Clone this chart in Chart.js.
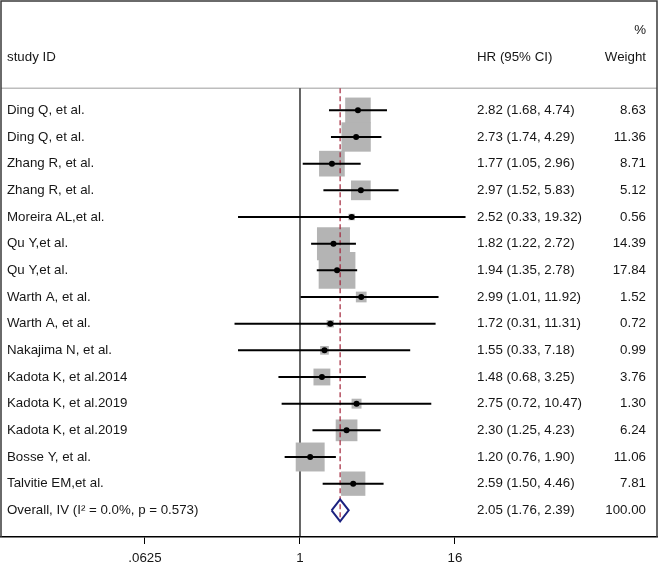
<!DOCTYPE html>
<html>
<head>
<meta charset="utf-8">
<title>Forest plot</title>
<script src="https://cdn.jsdelivr.net/npm/chart.js@4.4.0/dist/chart.umd.min.js"></script>
<style>
  html, body { margin: 0; padding: 0; background: #fff; }
  #wrap { width: 660px; height: 564px; }
</style>
</head>
<body>
<div id="wrap"><canvas id="forest" width="660" height="564"></canvas></div>
<script>
/* global Chart */
'use strict';

const studies = ['Ding Q, et al.', 'Ding Q, et al.', 'Zhang R, et al.', 'Zhang R, et al.',
  'Moreira AL,et al.', 'Qu Y,et al.', 'Qu Y,et al.', 'Warth A, et al.', 'Warth A, et al.',
  'Nakajima N, et al.', 'Kadota K, et al.2014', 'Kadota K, et al.2019', 'Kadota K, et al.2019',
  'Bosse Y, et al.', 'Talvitie EM,et al.'];
const hr = [2.82, 2.73, 1.77, 2.97, 2.52, 1.82, 1.94, 2.99, 1.72, 1.55, 1.48, 2.75, 2.30, 1.20, 2.59];
const lower = [1.68, 1.74, 1.05, 1.52, 0.33, 1.22, 1.35, 1.01, 0.31, 0.33, 0.68, 0.72, 1.25, 0.76, 1.50];
const upper = [4.74, 4.29, 2.96, 5.83, 19.32, 2.72, 2.78, 11.92, 11.31, 7.18, 3.25, 10.47, 4.23, 1.90, 4.46];
const weights = [8.63, 11.36, 8.71, 5.12, 0.56, 14.39, 17.84, 1.52, 0.72, 0.99, 3.76, 1.30, 6.24, 11.06, 7.81];
const overall = [2.05, 1.76, 2.39];
const overallWeight = 100;
const overallLabel = 'Overall, IV (I\u00B2 = 0.0%, p = 0.573)';
const tickValues = [0.0625, 1, 16];
const tickLabels = ['.0625', '1', '16'];

const FONT = '13.3px "Liberation Sans", Arial, sans-serif';
const TEXT = '#161616';
const overallRow = studies.length;
const headerLine = -0.83;
const diamondHalf = 0.41;

function lg (v) {
  return Math.log2(v);
}

function fmt (v) {
  return v.toFixed(2);
}

// gray squares, area follows the study weight
const boxData = hr.map(function (v, i) { return { x: lg(v), y: i }; });
const boxRadius = weights.map(function (w) { return 8.7 * Math.sqrt(w) / (2 * Math.SQRT1_2); });

const ciSets = studies.map(function (s, i) {
  return {
    data: [{ x: lg(lower[i]), y: i }, { x: lg(upper[i]), y: i }],
    showLine: true,
    borderColor: '#000',
    borderWidth: 2,
    pointRadius: 0,
    order: 1
  };
});

const datasets = [
  {
    data: hr.map(function (v, i) { return { x: lg(v), y: i }; }),
    backgroundColor: '#000',
    borderWidth: 0,
    pointRadius: 3,
    order: 0
  },
  {
    // overall diamond
    data: [
      { x: lg(overall[1]), y: overallRow },
      { x: lg(overall[0]), y: overallRow - diamondHalf },
      { x: lg(overall[2]), y: overallRow },
      { x: lg(overall[0]), y: overallRow + diamondHalf },
      { x: lg(overall[1]), y: overallRow }
    ],
    showLine: true,
    borderColor: '#1c2280',
    borderWidth: 2,
    pointRadius: 0,
    order: 1
  },
  {
    // pooled estimate line
    data: [{ x: lg(overall[0]), y: headerLine }, { x: lg(overall[0]), y: overallRow + diamondHalf }],
    showLine: true,
    borderColor: '#a3243a',
    borderWidth: 1.2,
    borderDash: [5, 3],
    pointRadius: 0,
    order: 2
  },
  {
    data: boxData,
    pointStyle: 'rect',
    backgroundColor: '#b4b4b4',
    borderWidth: 0,
    pointRadius: boxRadius,
    order: 3
  },
  {
    // null line at HR = 1
    data: [{ x: 0, y: headerLine }, { x: 0, y: 16 }],
    showLine: true,
    borderColor: '#000',
    borderWidth: 1.2,
    pointRadius: 0,
    order: 4
  },
  {
    data: [{ x: -7.716, y: headerLine }, { x: 9.213, y: headerLine }],
    showLine: true,
    borderColor: '#bdbdbd',
    borderWidth: 1.5,
    pointRadius: 0,
    order: 5
  }
].concat(ciSets);

const tablePlugin = {
  id: 'table',
  afterDraw: function (chart) {
    const ctx = chart.ctx;
    const ys = chart.scales.y;
    const area = chart.chartArea;
    ctx.save();

    // frame
    ctx.strokeStyle = '#3a3a3a';
    ctx.lineWidth = 1.5;
    ctx.beginPath();
    ctx.moveTo(area.left, area.bottom);
    ctx.lineTo(area.left, area.top);
    ctx.lineTo(area.right, area.top);
    ctx.lineTo(area.right, area.bottom);
    ctx.stroke();

    ctx.font = FONT;
    ctx.fillStyle = TEXT;
    ctx.textBaseline = 'middle';

    ctx.textAlign = 'left';
    ctx.fillText('study ID', 7, ys.getPixelForValue(-2));
    ctx.fillText('HR (95% CI)', 477, ys.getPixelForValue(-2));
    ctx.textAlign = 'right';
    ctx.fillText('%', 646, ys.getPixelForValue(-3));
    ctx.fillText('Weight', 646, ys.getPixelForValue(-2));

    studies.forEach(function (s, i) {
      const y = ys.getPixelForValue(i);
      ctx.textAlign = 'left';
      ctx.fillText(s, 7, y);
      ctx.fillText(fmt(hr[i]) + ' (' + fmt(lower[i]) + ', ' + fmt(upper[i]) + ')', 477, y);
      ctx.textAlign = 'right';
      ctx.fillText(fmt(weights[i]), 646, y);
    });

    const yo = ys.getPixelForValue(overallRow);
    ctx.textAlign = 'left';
    ctx.fillText(overallLabel, 7, yo);
    ctx.fillText(fmt(overall[0]) + ' (' + fmt(overall[1]) + ', ' + fmt(overall[2]) + ')', 477, yo);
    ctx.textAlign = 'right';
    ctx.fillText(fmt(overallWeight), 646, yo);
    ctx.restore();
  }
};

new Chart(document.getElementById('forest'), {
  type: 'scatter',
  data: { datasets: datasets },
  options: {
    responsive: false,
    animation: false,
    layout: { autoPadding: false, padding: { top: 1, left: 1, right: 3, bottom: 0 } },
    plugins: { legend: { display: false }, tooltip: { enabled: false } },
    scales: {
      x: {
        type: 'linear',
        min: -7.716,
        max: 9.213,
        afterFit: function (scale) { scale.height = 27; },
        afterBuildTicks: function (scale) {
          scale.ticks = tickValues.map(function (v) { return { value: lg(v) }; });
        },
        ticks: {
          autoSkip: false,
          maxRotation: 0,
          padding: 6,
          color: TEXT,
          font: { family: '"Liberation Sans", Arial, sans-serif', size: 13.3 },
          callback: function (value) {
            const k = tickValues.findIndex(function (v) { return Math.abs(lg(v) - value) < 1e-6; });
            return k >= 0 ? tickLabels[k] : '';
          }
        },
        grid: { drawOnChartArea: false, drawTicks: true, tickLength: 7, color: '#000', lineWidth: 1 },
        border: { display: true, color: '#000', width: 1.5 }
      },
      y: {
        type: 'linear',
        display: false,
        reverse: true,
        min: -4.1,
        max: 16
      }
    }
  },
  plugins: [tablePlugin]
});
</script>
</body>
</html>
